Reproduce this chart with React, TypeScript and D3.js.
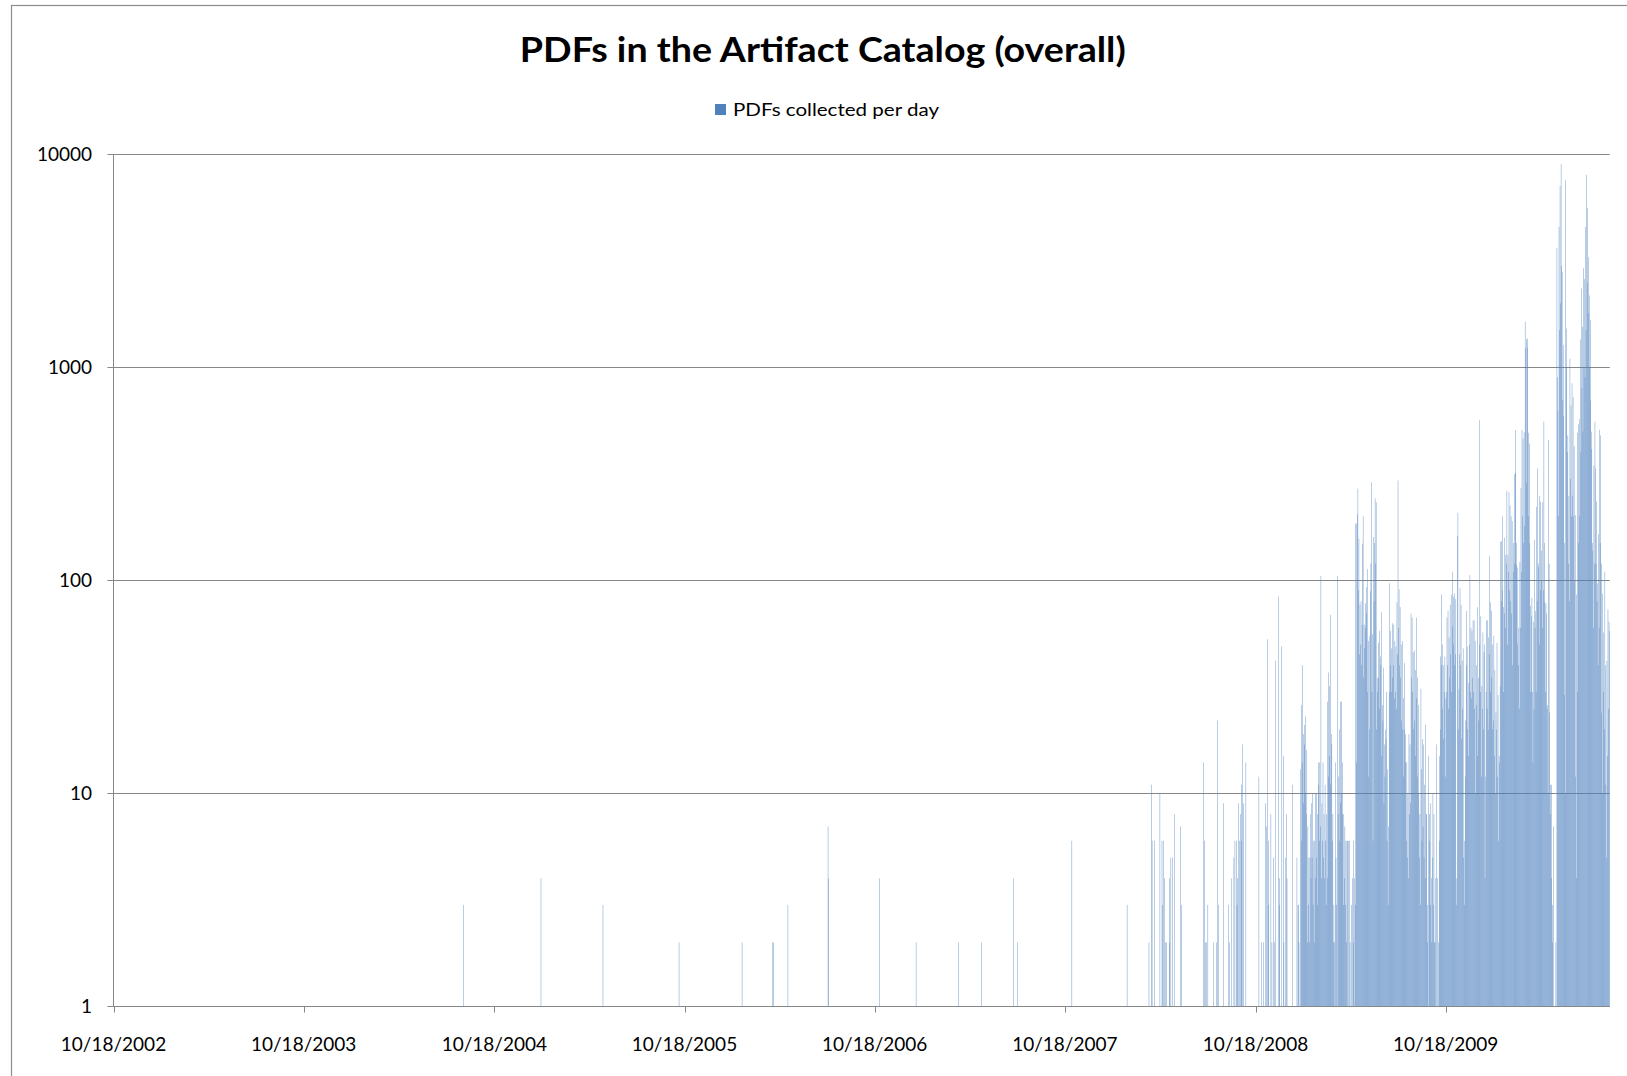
import React from "react";
import * as d3 from "d3";

const W = 1627;
const H = 1076;

const TITLE = "PDFs in the Artifact Catalog (overall)";
const SERIES_NAME = "PDFs collected per day";
const BAR_COLOR = "#4F81BD";
const GRID_COLOR = "#878787";

// Isolated collection days before the steady daily feed began
const earlyDays: [string, number][] = [
  ["2004-08-19", 3], ["2005-01-15", 4], ["2005-05-14", 3], ["2005-10-07", 2],
  ["2006-02-05", 2], ["2006-04-05", 2], ["2006-04-06", 2], ["2006-05-04", 3],
  ["2006-07-20", 7], ["2006-07-21", 4], ["2006-10-27", 4], ["2007-01-05", 2],
  ["2007-03-28", 2], ["2007-05-11", 2], ["2007-07-11", 4], ["2007-07-19", 2],
  ["2007-10-31", 6], ["2008-02-14", 3], ["2008-03-27", 2],
  ["2008-04-01", 11], ["2008-04-02", 6], ["2008-04-07", 6], ["2008-04-17", 10],
  ["2008-04-21", 6], ["2008-04-22", 3], ["2008-04-24", 6], ["2008-04-26", 4],
  ["2008-04-28", 2], ["2008-04-30", 2], ["2008-05-05", 4], ["2008-05-06", 2],
  ["2008-05-08", 5], ["2008-05-11", 5], ["2008-05-15", 8], ["2008-05-27", 7],
  ["2008-05-28", 3], ["2008-07-10", 14], ["2008-07-11", 6], ["2008-07-14", 2],
  ["2008-07-16", 2], ["2008-07-18", 3], ["2008-07-29", 2], ["2008-08-04", 2],
  ["2008-08-06", 22], ["2008-08-07", 3], ["2008-08-17", 9], ["2008-08-27", 3],
  ["2008-08-29", 2], ["2008-09-02", 4], ["2008-09-06", 5], ["2008-09-08", 6],
  ["2008-09-11", 6], ["2008-09-12", 3], ["2008-09-13", 4], ["2008-09-15", 9],
  ["2008-09-17", 6], ["2008-09-19", 8], ["2008-09-20", 6], ["2008-09-21", 11],
  ["2008-09-23", 17], ["2008-09-24", 9], ["2008-09-29", 14], ["2008-10-24", 12],
  ["2008-10-29", 2], ["2008-11-02", 2], ["2008-11-06", 9], ["2008-11-07", 7],
  ["2008-11-10", 53], ["2008-11-11", 6], ["2008-11-12", 3], ["2008-11-16", 8],
  ["2008-11-18", 2], ["2008-11-21", 5], ["2008-11-23", 2], ["2008-11-25", 42],
  ["2008-12-01", 84], ["2008-12-02", 4], ["2008-12-03", 3], ["2008-12-07", 49],
  ["2008-12-10", 15], ["2008-12-11", 2], ["2008-12-14", 5], ["2008-12-16", 8],
  ["2008-12-17", 4], ["2008-12-28", 11],
];

// Daily counts per month (index 0 = day 1; 0 = nothing collected)
const jan2009 = [0,0,0,0,5,0,3,3,2,0,0,13,6,26,14,40,9,19,17,21,10,23,8,16,2,7,3,5,2,5,8];
const feb2009 = [4,9,5,10,3,6,2,6,4,10,5,10,3,8,11,14,6,14,7,105,4,9,6,14,5,8,4,11];
const mar2009 = [6,3,8,4,27,12,37,15,32,11,69,19,17,6,8,2,3,2,0,14,5,3,0,105,8,12,6,20,9,27,10];
const apr2009 = [27,14,8,3,8,4,7,3,6,2,6,6,0,6,0,6,2,0,0,3,0,4,2,6,0,4,3,185,14,185];
const may2009 = [204,270,90,157,45,77,50,80,40,62,149,200,35,62,48,78,60,93,70,113,30,52,12,20,55,89,120,289,30,56,6];
const jun2009 = [160,80,150,243,120,233,20,35,30,51,35,58,25,44,40,71,15,26,22,39,9,17,12,20,18,30,6,13,3,7];
const jul2009 = [30,97,40,58,30,48,35,63,40,62,28,52,30,49,25,79,45,295,60,91,40,75,35,50,22,52,20,28,12,41,20];
const aug2009 = [19,14,6,14,5,10,4,19,8,17,9,70,35,67,30,46,20,47,22,38,15,67,28,35,12,26,10,5,8,3,31];
const sep2009 = [13,6,18,7,17,5,11,4,21,8,8,3,2,0,15,6,8,3,9,4,2,5,10,3,8,2,2,4,0,17];
const oct2009 = [0,4,0,2,6,15,20,44,40,86,25,50,18,40,30,44,12,28,30,67,40,72,25,54,35,77,45,86,30,61,110];
const nov2009 = [50,84,40,87,45,82,3,4,162,208,20,31,45,92,40,77,18,42,25,48,5,3,6,12,22,40,72,20,49,15];
const dec2009 = [33,50,106,30,60,28,58,35,65,30,65,25,52,10,26,40,75,15,35,22,50,566,30,68,12,32,25,57,20,46,50];
const jan2010 = [4,12,30,65,25,65,20,54,45,130,30,79,35,72,20,50,22,55,15,38,10,24,20,51,12,29,6,15,14,32,152];
const feb2010 = [80,153,90,200,30,75,70,159,60,132,120,264,50,132,110,260,90,225,80,200,70,190,40,110,150,315,120,320];
const mar2010 = [508,150,118,50,115,40,60,25,122,60,272,110,508,200,465,150,497,180,1641,1232,288,1355,1371,1240,494,200,440,150,76,30,68];
const apr2010 = [83,30,14,64,25,155,60,72,30,222,80,336,120,116,50,250,90,235,100,138,60,233,90,557,150,79,30,78,70,25];
const may2010 = [26,10,457,120,24,8,11,4,11,3,2,0,7,0,0,0,2,0,3650,900,627,200,4570,1500,7130,2000,9040,3000,2810,700,1276];
const jun2010 = [590,150,29,10,7570,1000,1524,400,480,120,250,80,1100,300,665,200,843,250,727,200,427,100,203,12,4,86,30,494,150,540];
const jul2010 = [573,200,1355,400,2350,800,1553,500,2930,1000,2600,900,4570,1500,8030,2500,5620,1800,3300,1000,2180,700,1670,500,414,150,138,60,347,120,557];
const aug2010 = [336,120,235,80,97,40,165,60,510,150,480,120,24,10,87,30,57,20,110,40,11,5,42,15,73,25,64,58];

const monthRuns: [string, number[]][] = [
  ["2009-01", jan2009], ["2009-02", feb2009], ["2009-03", mar2009], ["2009-04", apr2009],
  ["2009-05", may2009], ["2009-06", jun2009], ["2009-07", jul2009], ["2009-08", aug2009],
  ["2009-09", sep2009], ["2009-10", oct2009], ["2009-11", nov2009], ["2009-12", dec2009],
  ["2010-01", jan2010], ["2010-02", feb2010], ["2010-03", mar2010], ["2010-04", apr2010],
  ["2010-05", may2010], ["2010-06", jun2010], ["2010-07", jul2010], ["2010-08", aug2010],
];

const axisStart = "2002-10-18";
const axisEnd = "2010-08-29";
const xTickDates = [
  "2002-10-18", "2003-10-18", "2004-10-18", "2005-10-18",
  "2006-10-18", "2007-10-18", "2008-10-18", "2009-10-18",
];
const yTickValues = [1, 10, 100, 1000, 10000];

const utc = (s: string) => new Date(s + "T00:00:00Z");
const fmtTick = d3.utcFormat("%m/%d/%Y");
const tickLabel = (d: Date) => {
  const s = fmtTick(d);
  return s.startsWith("0") ? s.slice(1) : s;
};

type Point = { date: Date; value: number };

function buildSeries(): Point[] {
  const out: Point[] = earlyDays.map(([d, v]) => ({ date: utc(d), value: v }));
  for (const [ym, vals] of monthRuns) {
    const [y, m] = ym.split("-").map(Number);
    vals.forEach((v, i) => {
      if (v > 0) out.push({ date: new Date(Date.UTC(y, m - 1, i + 1)), value: v });
    });
  }
  return out;
}

const plot = { left: 113.5, right: 1609.8, top: 154.5, bottom: 1006.5 };
const FONT = "Lato, 'Open Sans', 'DejaVu Sans', sans-serif";

export default function App() {
  const series = buildSeries();

  const x = d3
    .scaleUtc()
    .domain([utc(axisStart), utc(axisEnd)])
    .range([plot.left, plot.right]);
  const y = d3.scaleLog().domain([1, 10000]).range([plot.bottom, plot.top]);

  const dayPx = x(utc("2002-10-19")) - x(utc("2002-10-18"));
  const barW = 0.4;

  return (
    <svg
      width={W}
      height={H}
      viewBox={`0 0 ${W} ${H}`}
      style={{ position: "absolute", left: 0, top: 0, background: "#fff" }}
    >
      <rect x={0} y={0} width={W} height={H} fill="#fff" />
      {/* chart area frame */}
      <rect x={11.5} y={5.5} width={W + 20} height={H + 20} fill="none" stroke="#8c8c8c" strokeWidth={1.2} />

      <text
        x={822.8}
        y={62}
        textAnchor="middle"
        fontFamily={FONT}
        fontWeight={700}
        fontSize={34}
        textLength={606}
        lengthAdjust="spacingAndGlyphs"
        fill="#000"
      >
        {TITLE}
      </text>

      {/* legend */}
      <rect x={715} y={104} width={11} height={11} fill={BAR_COLOR} />
      <text
        x={733}
        y={115.5}
        fontFamily={FONT}
        fontSize={18}
        textLength={206}
        lengthAdjust="spacingAndGlyphs"
        fill="#000"
      >
        {SERIES_NAME}
      </text>

      {/* horizontal gridlines and y ticks */}
      {yTickValues.map((v) => (
        <g key={"gy" + v}>
          <line x1={plot.left - 6} x2={plot.right} y1={y(v)} y2={y(v)} stroke={GRID_COLOR} strokeWidth={1} />
          <text
            x={92}
            y={y(v) + 6.8}
            textAnchor="end"
            fontFamily={FONT}
            fontSize={19}
            fill="#000"
          >
            {String(v)}
          </text>
        </g>
      ))}

      {/* bars */}
      <g fill={BAR_COLOR}>
        {series.map((p, i) => {
          const cx = x(p.date) + dayPx / 2;
          const top = y(p.value);
          return (
            <rect
              key={i}
              x={cx - barW / 2}
              y={top}
              width={barW}
              height={plot.bottom - top}
            />
          );
        })}
      </g>

      {/* axes */}
      <line x1={plot.left} x2={plot.left} y1={plot.top} y2={plot.bottom} stroke={GRID_COLOR} strokeWidth={1} />
      <line x1={plot.left} x2={plot.right} y1={plot.bottom} y2={plot.bottom} stroke={GRID_COLOR} strokeWidth={1} />
      {xTickDates.map((s) => {
        const d = utc(s);
        const tx = Math.round(x(d)) + 0.5;
        return (
          <g key={"tx" + s}>
            <line x1={tx} x2={tx} y1={plot.bottom} y2={plot.bottom + 6} stroke={GRID_COLOR} strokeWidth={1} />
            <text
              x={x(d)}
              y={1050.5}
              textAnchor="middle"
              fontFamily={FONT}
              fontSize={19}
              fill="#000"
            >
              {tickLabel(d)}
            </text>
          </g>
        );
      })}
    </svg>
  );
}
